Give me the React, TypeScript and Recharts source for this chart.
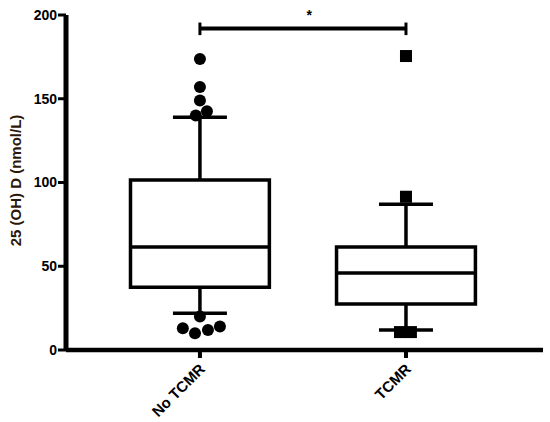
import {
  ComposedChart, XAxis, YAxis, Scatter, ReferenceArea, ReferenceLine, ReferenceDot,
} from 'recharts'

// groups sit at x = 1 and x = 2 on a numeric axis
const categories = ['No TCMR', 'TCMR']
const q1 = [37.5, 27.5]
const median = [61.5, 46]
const q3 = [101.5, 61.5]
const whiskLow = [22, 12]
const whiskHigh = [139, 87]

// outliers (x carries the small horizontal jitter seen in the figure)
const noTcmrOutliers = [
  { x: 1, y: 173.7 }, { x: 1, y: 157 }, { x: 1, y: 149 }, { x: 0.98, y: 140 }, { x: 1.034, y: 142.5 },
  { x: 1, y: 20 }, { x: 0.917, y: 13 }, { x: 0.976, y: 10 }, { x: 1.039, y: 12 }, { x: 1.097, y: 14 },
]
const tcmrOutliers = [
  { x: 2, y: 175.5 }, { x: 2, y: 91.5 }, { x: 1.971, y: 10.7 }, { x: 2.024, y: 10.7 },
]

const yTicks = [0, 50, 100, 150, 200]
const sigY = 192
const sigLabel = '*'

const BOX_HALF = 0.337
const CAP_HALF = 0.131
const INK = '#000'
const FONT = 'Arial, "Liberation Sans", sans-serif'

function Dot(props: any) {
  return <circle cx={props.cx} cy={props.cy} r={6} fill={INK} />
}

function Square(props: any) {
  return <rect x={props.cx - 6} y={props.cy - 6} width={12} height={12} fill={INK} />
}

function CatTick(props: any) {
  const { x, y, payload } = props
  const ax = x + 6
  const ay = y + 10
  return (
    <text x={ax} y={ay} transform={`rotate(-45, ${ax}, ${ay})`} textAnchor="end"
      fontSize={15} fontWeight="bold" fill="#000" fontFamily={FONT}>
      {categories[payload.value - 1]}
    </text>
  )
}

function YLabel(props: any) {
  const vb = props.viewBox
  const cx = 15
  const cy = vb.y + vb.height / 2 - 2
  return (
    <text x={cx} y={cy} transform={`rotate(-90, ${cx}, ${cy})`} textAnchor="middle" dominantBaseline="central"
      fontSize={15} fontWeight="bold" fill="#2b1808" fontFamily={FONT}>
      25 (OH) D (nmol/L)
    </text>
  )
}

export default function App() {
  const boxes = categories.map((_, i) => {
    const c = i + 1
    return (
      <g key={c}>
        <ReferenceLine segment={[{ x: c, y: whiskLow[i] }, { x: c, y: q1[i] }]} stroke={INK} strokeWidth={3.5} />
        <ReferenceLine segment={[{ x: c, y: q3[i] }, { x: c, y: whiskHigh[i] }]} stroke={INK} strokeWidth={3.5} />
        <ReferenceLine segment={[{ x: c - CAP_HALF, y: whiskLow[i] }, { x: c + CAP_HALF, y: whiskLow[i] }]} stroke={INK} strokeWidth={3.5} />
        <ReferenceLine segment={[{ x: c - CAP_HALF, y: whiskHigh[i] }, { x: c + CAP_HALF, y: whiskHigh[i] }]} stroke={INK} strokeWidth={3.5} />
        <ReferenceArea x1={c - BOX_HALF} x2={c + BOX_HALF} y1={q1[i]} y2={q3[i]} fill="#fff" fillOpacity={1} stroke={INK} strokeWidth={3.5} />
        <ReferenceLine segment={[{ x: c - BOX_HALF, y: median[i] }, { x: c + BOX_HALF, y: median[i] }]} stroke={INK} strokeWidth={3.5} />
      </g>
    )
  })

  return (
    <div style={{ position: 'absolute', left: 0, top: 0, fontFamily: FONT }}>
      <ComposedChart width={550} height={422} margin={{ top: 15, right: 7, bottom: 12, left: 0 }}>
        <XAxis type="number" dataKey="x" domain={[0.35, 2.665]} ticks={[1, 2]} allowDataOverflow
          axisLine={{ stroke: INK, strokeWidth: 4.5 }} tickLine={{ stroke: INK, strokeWidth: 4 }}
          tickSize={8} tickMargin={2} height={60} tick={<CatTick />} />
        <YAxis type="number" dataKey="y" domain={[0, 200]} ticks={yTicks} width={66}
          axisLine={{ stroke: INK, strokeWidth: 5 }} tickLine={{ stroke: INK, strokeWidth: 3 }}
          tickSize={8} tickMargin={1}
          tick={{ fontSize: 14, fontWeight: 'bold', fill: '#000', fontFamily: FONT }}
          label={<YLabel />} />
        {boxes}
        <ReferenceLine segment={[{ x: 1, y: sigY }, { x: 2, y: sigY }]} stroke={INK} strokeWidth={4} />
        <ReferenceLine segment={[{ x: 1, y: 188 }, { x: 1, y: 195.5 }]} stroke={INK} strokeWidth={3} />
        <ReferenceLine segment={[{ x: 2, y: 188 }, { x: 2, y: 195.5 }]} stroke={INK} strokeWidth={3} />
        <ReferenceDot x={1.53} y={sigY} r={0} stroke="none" fill="none"
          label={{ value: sigLabel, position: 'top', offset: 8, fontSize: 14, fontWeight: 'bold', fill: '#000' }} />
        <Scatter data={noTcmrOutliers} shape={<Dot />} isAnimationActive={false} />
        <Scatter data={tcmrOutliers} shape={<Square />} isAnimationActive={false} />
      </ComposedChart>
    </div>
  )
}
